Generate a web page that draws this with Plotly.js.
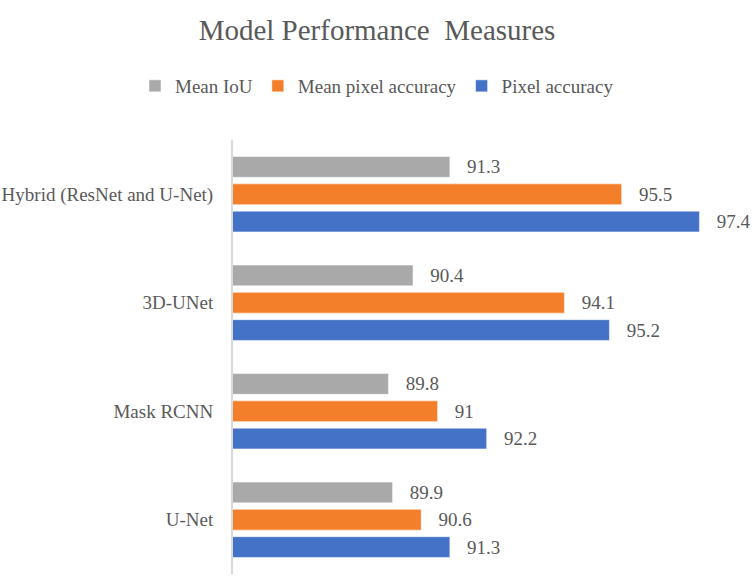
<!DOCTYPE html>
<html>
<head>
<meta charset="utf-8">
<script src="https://cdn.plot.ly/plotly-3.0.1.min.js"></script>
<style>html,body{margin:0;padding:0;background:#fff;}#chart{width:754px;height:578px;}</style>
</head>
<body>
<div id="chart"></div>
<script>
// Categories listed bottom to top
const models = ["U-Net", "Mask RCNN", "3D-UNet", "Hybrid (ResNet and U-Net)"];
const meanIoU = [89.9, 89.8, 90.4, 91.3];
const meanPixelAccuracy = [90.6, 91, 94.1, 95.5];
const pixelAccuracy = [91.3, 92.2, 95.2, 97.4];
const seriesNames = ["Mean IoU", "Mean pixel accuracy", "Pixel accuracy"];
const seriesColors = ["#A9A9A9", "#F47F2B", "#4472C6"];

const FONT = "'Liberation Serif', 'Times New Roman', serif";
const TXT = "#595959";

function barTrace(name, values, color) {
  return {
    type: "bar",
    orientation: "h",
    name: name,
    y: models,
    x: values,
    marker: {color: color, line: {color: "rgba(255,255,255,0.5)", width: 1}},
    text: values.map(v => String(v)),
    texttemplate: "\u00a0\u00a0\u00a0%{text}",
    textposition: "outside",
    constraintext: "none",
    cliponaxis: false,
    textfont: {family: FONT, size: 19, color: TXT},
    hoverinfo: "skip"
  };
}

// Plotly stacks grouped horizontal bars from the bottom: first trace lowest
const data = [
  barTrace(seriesNames[2], pixelAccuracy, seriesColors[2]),
  barTrace(seriesNames[1], meanPixelAccuracy, seriesColors[1]),
  barTrace(seriesNames[0], meanIoU, seriesColors[0])
];

const layout = {
  width: 754,
  height: 578,
  margin: {l: 233, r: 30, t: 140, b: 4},
  paper_bgcolor: "#ffffff",
  plot_bgcolor: "#ffffff",
  font: {family: FONT, color: TXT},
  title: {
    text: "Model Performance\u00a0 Measures",
    font: {family: FONT, size: 29, color: TXT},
    xref: "container", x: 0.5, xanchor: "center",
    yref: "container", y: 1 - 30/578, yanchor: "middle"
  },
  barmode: "group",
  bargap: 0.245,
  bargroupgap: 0.24,
  showlegend: true,
  legend: {
    orientation: "h",
    traceorder: "reversed",
    xref: "container", x: 0.5, xanchor: "center",
    yref: "container", y: 1 - 86/578, yanchor: "middle",
    font: {family: FONT, size: 19, color: TXT},
    itemwidth: 30
  },
  xaxis: {
    range: [86, 98],
    visible: false,
    showgrid: false,
    zeroline: false
  },
  yaxis: {
    type: "category",
    categoryorder: "array",
    categoryarray: models,
    showline: true,
    linecolor: "#D9D9D9",
    linewidth: 2,
    ticks: "",
    ticklabelstandoff: 14,
    tickfont: {family: FONT, size: 19, color: TXT},
    showgrid: false,
    zeroline: false
  }
};

Plotly.newPlot("chart", data, layout, {displayModeBar: false, staticPlot: true});
</script>
</body>
</html>
